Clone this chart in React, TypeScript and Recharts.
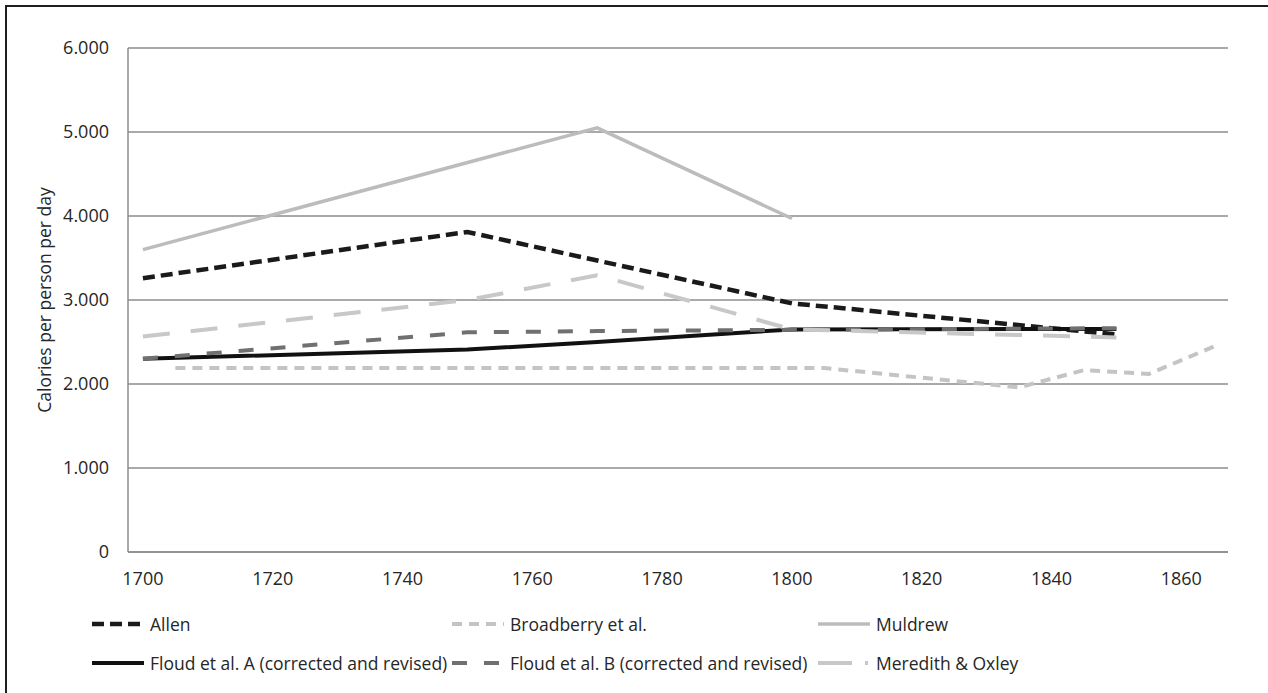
import React from 'react';
import { LineChart, Line, XAxis, YAxis, CartesianGrid } from 'recharts';

// values (kcal per person per day)
const allenYears = [1700, 1750, 1800, 1850];
const allenKcal = [3260, 3810, 2960, 2590];

const broadberryYears = [1705, 1805, 1835, 1845, 1855, 1865];
const broadberryKcal = [2190, 2190, 1960, 2165, 2120, 2445];

const muldrewYears = [1700, 1770, 1800];
const muldrewKcal = [3600, 5050, 3970];

const floudAYears = [1700, 1750, 1770, 1800, 1850];
const floudAKcal = [2300, 2410, 2500, 2650, 2655];

const floudBYears = [1700, 1750, 1770, 1800, 1850];
const floudBKcal = [2300, 2615, 2630, 2645, 2665];

const meredithYears = [1700, 1750, 1770, 1800, 1850];
const meredithKcal = [2565, 3000, 3295, 2650, 2555];

const yearTicks = [1700, 1720, 1740, 1760, 1780, 1800, 1820, 1840, 1860];
const kcalTicks = [0, 1000, 2000, 3000, 4000, 5000, 6000];

const toPoints = (years: number[], kcal: number[]) =>
  years.map((year, i) => ({ year, kcal: kcal[i] }));

const series = [
  { name: 'Allen', data: toPoints(allenYears, allenKcal), stroke: '#1a1a1a', width: 4.5, dash: '12 6', legendDash: '12 6' },
  { name: 'Broadberry et al.', data: toPoints(broadberryYears, broadberryKcal), stroke: '#c4c4c4', width: 4, dash: '10 7', legendDash: '10 7' },
  { name: 'Muldrew', data: toPoints(muldrewYears, muldrewKcal), stroke: '#bcbcbc', width: 3.5, dash: undefined, legendDash: undefined },
  { name: 'Floud et al. A (corrected and revised)', data: toPoints(floudAYears, floudAKcal), stroke: '#111111', width: 4, dash: undefined, legendDash: undefined },
  { name: 'Floud et al. B (corrected and revised)', data: toPoints(floudBYears, floudBKcal), stroke: '#707070', width: 4, dash: '15 17', legendDash: '15 17' },
  // the legend swatch shows a dash-dot, the plotted line reads as long dashes
  { name: 'Meredith & Oxley', data: toPoints(meredithYears, meredithKcal), stroke: '#c8c8c8', width: 4, dash: '27 21', legendDash: '34 13 3 10' },
];

const FONT = '"Open Sans", sans-serif';
const TEXT = '#262626';
const GRID = '#8c8c8c';

// legend columns (sample start x) and row centres
const legendCols = [92, 452, 818];
const legendRows = [624, 663];

const fmtKcal = (v: number) => (v === 0 ? '0' : `${v / 1000}.000`);

const App = () => {
  return (
    <div
      style={{
        position: 'fixed',
        left: 0,
        top: 0,
        width: 1268,
        height: 693,
        background: '#fff',
        fontFamily: FONT,
        overflow: 'hidden',
      }}
    >
      <div
        style={{
          position: 'absolute',
          left: 5,
          top: 5,
          width: 1300,
          height: 720,
          borderLeft: '2px solid #1e1e1e',
          borderTop: '2px solid #1e1e1e',
        }}
      />
      <div style={{ position: 'absolute', left: 0, top: 0 }}>
        <LineChart width={1268} height={693} margin={{ top: 48, right: 40, bottom: 101, left: 0 }}>
          <CartesianGrid vertical={false} stroke={GRID} strokeWidth={1.5} />
          <XAxis
            type="number"
            dataKey="year"
            domain={[1697.7, 1867.2]}
            ticks={yearTicks}
            allowDataOverflow
            height={40}
            tickSize={0}
            tickMargin={20}
            axisLine={{ stroke: GRID, strokeWidth: 1.5 }}
            tick={{ fill: TEXT, fontSize: 18, fontFamily: FONT }}
          />
          <YAxis
            type="number"
            domain={[0, 6000]}
            ticks={kcalTicks}
            width={128}
            tickSize={0}
            tickMargin={19}
            tickFormatter={fmtKcal}
            axisLine={{ stroke: GRID, strokeWidth: 1.5 }}
            tick={{ fill: TEXT, fontSize: 18, fontFamily: FONT }}
            label={{
              value: 'Calories per person per day',
              angle: -90,
              position: 'center',
              dx: -19,
              style: { fill: TEXT, fontSize: 17.5, fontFamily: FONT, textAnchor: 'middle' },
            }}
          />
          {series.map((s) => (
            <Line
              key={s.name}
              data={s.data}
              dataKey="kcal"
              name={s.name}
              type="linear"
              stroke={s.stroke}
              strokeWidth={s.width}
              strokeDasharray={s.dash}
              dot={false}
              activeDot={false}
              isAnimationActive={false}
            />
          ))}
        </LineChart>
      </div>
      {series.map((s, i) => {
        const x = legendCols[i % 3];
        const y = legendRows[Math.floor(i / 3)];
        return (
          <div
            key={s.name}
            style={{
              position: 'absolute',
              left: x,
              top: y - 14,
              height: 28,
              display: 'flex',
              alignItems: 'center',
              whiteSpace: 'nowrap',
            }}
          >
            <svg width={52} height={10} style={{ marginRight: 6 }}>
              <line
                x1={0}
                y1={5}
                x2={52}
                y2={5}
                stroke={s.stroke}
                strokeWidth={s.width}
                strokeDasharray={s.legendDash}
              />
            </svg>
            <span style={{ fontSize: 17.5, color: TEXT, fontFamily: FONT }}>{s.name}</span>
          </div>
        );
      })}
    </div>
  );
};

export default App;
